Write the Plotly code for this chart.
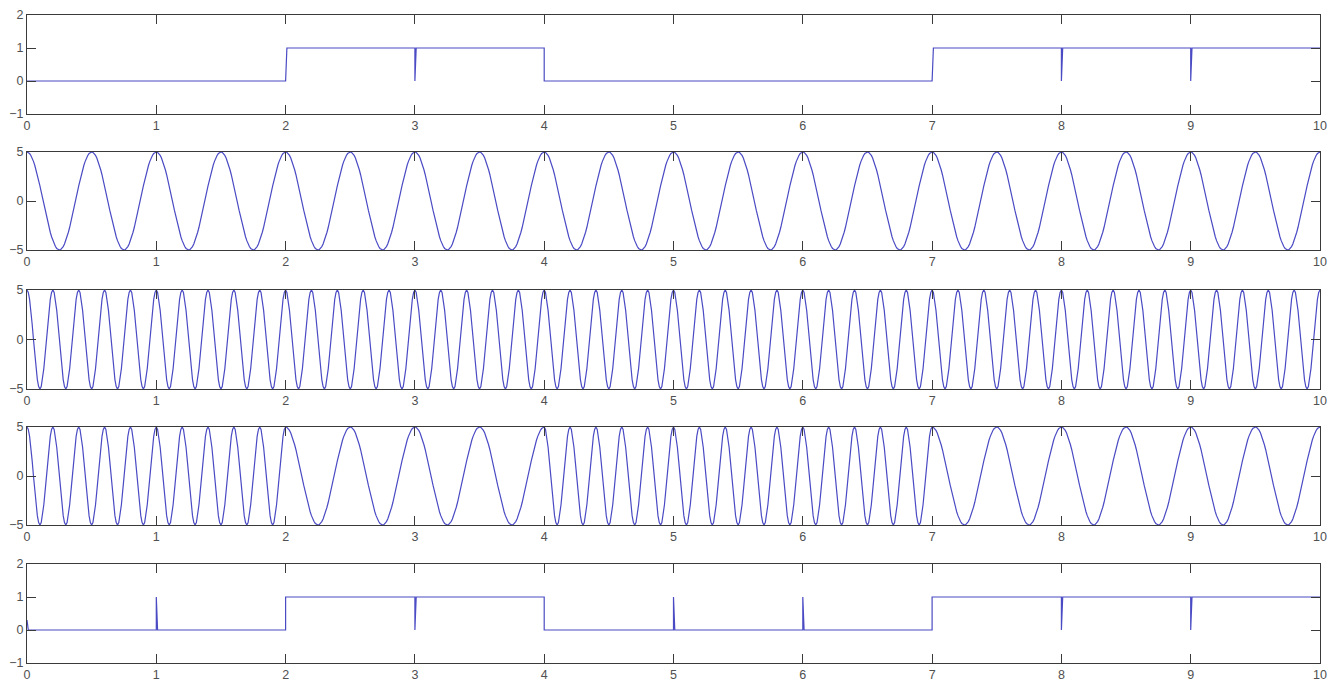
import numpy as np
import plotly.graph_objects as go

# ---- data ----
bits = [0, 0, 1, 1, 0, 0, 0, 1, 1, 1]            # transmitted bits, 1 s each
data_edge = [0, 0, 0, 0, 0, 0, 0, 0, 0, 0]       # sample value at each bit boundary (panel 1)
demod_bits = [0, 0, 1, 1, 0, 0, 0, 1, 1, 1]      # recovered bits (panel 5)
demod_edge = [0.3, 1, 1, 0, 0, 1, 1, 1, 0, 0]    # boundary glitch values (panel 5)
amp = 5                                          # carrier amplitude
f_one = 2                                        # carrier for bit 1 (Hz)
f_zero = 5                                       # carrier for bit 0 (Hz)
dt = 0.01
x_ticks = list(range(0, 11))
y_ticks_bits = [-1, 0, 1, 2]
y_ticks_sig = [-5, 0, 5]

t = np.arange(0, 10 + dt / 2, dt)
carrier1 = amp * np.cos(2 * np.pi * f_one * t)
carrier2 = amp * np.cos(2 * np.pi * f_zero * t)
idx = np.minimum(np.floor(t + 1e-9).astype(int), 9)
freq_t = np.where(np.array(bits)[idx] == 1, f_one, f_zero)
fsk = amp * np.cos(2 * np.pi * freq_t * t)


def step_path(b, edge):
    xs, ys = [], []
    for k in range(len(b)):
        xs += [k, k + dt, k + 1]
        ys += [edge[k], b[k], b[k]]
    return xs, ys


x1, y1 = step_path(bits, data_edge)
x5, y5 = step_path(demod_bits, demod_edge)

W, H = 1340, 685
tops = [15, 152, 290, 427, 564]
bots = [114, 250, 389, 525, 663]
xl, xr = 27, 1320

fig = go.Figure()
series = [(x1, y1), (t, carrier1), (t, carrier2), (t, fsk), (x5, y5)]
ranges = [[-1, 2], [-5, 5], [-5, 5], [-5, 5], [-1, 2]]
yticks = [y_ticks_bits, y_ticks_sig, y_ticks_sig, y_ticks_sig, y_ticks_bits]
line_col = "#4a4ac4"
axis_col = "#3a3a3a"
font = dict(family="Liberation Sans, Arial, sans-serif", size=12.5, color="#505050")

for i, (xs, ys) in enumerate(series):
    n = i + 1
    fig.add_trace(go.Scatter(x=list(xs), y=list(ys), mode="lines",
                             line=dict(color=line_col, width=1.2),
                             xaxis=f"x{n}", yaxis=f"y{n}",
                             hoverinfo="skip", showlegend=False))
    xa = dict(domain=[xl / W, xr / W], range=[0, 10], tickvals=x_ticks,
              ticks="inside", ticklen=9, tickcolor=axis_col, tickwidth=1,
              showline=True, linecolor=axis_col, linewidth=1, mirror="ticks",
              showgrid=False, zeroline=False, tickfont=font, automargin=False,
              anchor=f"y{n}")
    ya = dict(domain=[1 - bots[i] / H, 1 - tops[i] / H], range=ranges[i],
              tickvals=yticks[i], ticks="inside", ticklen=9, tickcolor=axis_col,
              tickwidth=1, showline=True, linecolor=axis_col, linewidth=1,
              mirror="ticks", showgrid=False, zeroline=False, tickfont=font,
              automargin=False, anchor=f"x{n}")
    fig.layout[f"xaxis{n}" if n > 1 else "xaxis"] = xa
    fig.layout[f"yaxis{n}" if n > 1 else "yaxis"] = ya

fig.update_layout(template="none", width=W, height=H,
                  margin=dict(l=0, r=0, t=0, b=0),
                  paper_bgcolor="white", plot_bgcolor="white", showlegend=False)

fig.write_html("out.html",
               config={"displayModeBar": False, "staticPlot": True},
               post_script="document.body.style.margin='0';"
                           "document.body.style.overflow='hidden';")
